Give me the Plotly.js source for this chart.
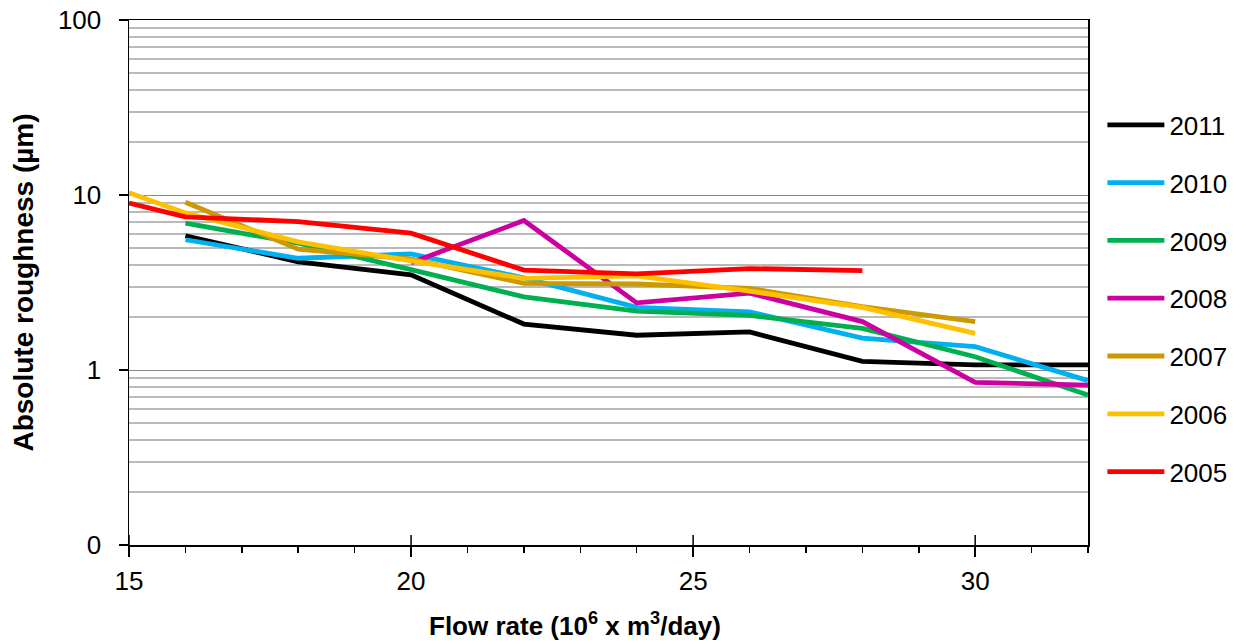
<!DOCTYPE html>
<html>
<head>
<meta charset="utf-8">
<script src="https://cdn.plot.ly/plotly-3.0.1.min.js"></script>
<style>
  html, body { margin: 0; padding: 0; background: #fff; }
  #chart { width: 1239px; height: 644px; }
</style>
</head>
<body>
<div id="chart"></div>
<script>
// ---- data ----
const years = ["2011", "2010", "2009", "2008", "2007", "2006", "2005"];
const colors = ["#000000", "#00B0F0", "#00B050", "#CC00A0", "#CC9900", "#FFC000", "#FF0000"];

const x2011 = [16, 18, 20, 22, 24, 26, 28, 30, 32];
const y2011 = [5.85, 4.15, 3.5, 1.83, 1.58, 1.65, 1.12, 1.07, 1.07];

const x2010 = [16, 18, 20, 22, 24, 26, 28, 30, 32];
const y2010 = [5.55, 4.35, 4.6, 3.36, 2.28, 2.15, 1.52, 1.36, 0.87];

const x2009 = [16, 18, 20, 22, 24, 26, 28, 30, 32];
const y2009 = [6.9, 5.3, 3.75, 2.62, 2.17, 2.05, 1.73, 1.19, 0.72];

const x2008 = [20, 22, 24, 26, 28, 30, 32];
const y2008 = [4.1, 7.15, 2.42, 2.75, 1.89, 0.85, 0.82];

const x2007 = [16, 18, 20, 22, 24, 26, 28, 30];
const y2007 = [9.1, 4.9, 4.3, 3.13, 3.1, 2.93, 2.3, 1.89];

const x2006 = [15, 16, 18, 20, 22, 24, 26, 28, 30];
const y2006 = [10.3, 7.9, 5.4, 4.2, 3.34, 3.45, 2.82, 2.28, 1.62];

const x2005 = [15, 16, 18, 20, 22, 24, 26, 28];
const y2005 = [9.0, 7.5, 7.05, 6.05, 3.72, 3.54, 3.8, 3.7];

const yTickVals = [0.1, 1, 10, 100];
const yTickText = ["0", "1", "10", "100"];
const xTickVals = [15, 20, 25, 30];

const xTitle = "Flow rate (10<sup>6</sup> x m<sup>3</sup>/day)";
const yTitle = "Absolute roughness (µm)";

// ---- build traces ----
const xs = [x2011, x2010, x2009, x2008, x2007, x2006, x2005];
const ys = [y2011, y2010, y2009, y2008, y2007, y2006, y2005];

const traces = years.map((yr, i) => ({
  type: "scatter",
  mode: "lines",
  name: yr,
  legendgroup: yr,
  x: xs[i],
  y: ys[i],
  line: { color: colors[i], width: 4.8 },
  hoverinfo: "x+y+name"
}));

// minor gridlines at 2..9 of each decade
const minorVals = [];
for (let e = -1; e <= 1; e++) {
  for (let d = 2; d <= 9; d++) minorVals.push(d * Math.pow(10, e));
}

// inward half of the crossing major x ticks
const innerTicks = xTickVals.map(v => ({
  type: "line", xref: "x", yref: "paper",
  x0: v, x1: v, y0: 0, y1: 0.019,
  line: { color: "#000", width: 1.5 }
}));

const font = "Liberation Sans, Arial, sans-serif";

const layout = {
  width: 1239,
  height: 644,
  paper_bgcolor: "#ffffff",
  plot_bgcolor: "#ffffff",
  margin: { l: 129, r: 151, t: 20, b: 99, autoexpand: false },
  font: { family: font, size: 26, color: "#000" },
  showlegend: true,
  legend: {
    x: 1.015, xanchor: "left",
    y: 0.845, yanchor: "top",
    font: { family: font, size: 26, color: "#000" },
    tracegroupgap: 21,
    itemwidth: 57,
    bgcolor: "rgba(0,0,0,0)"
  },
  shapes: innerTicks,
  annotations: [{
    text: xTitle,
    xref: "paper", yref: "paper",
    x: 0.465, y: -0.152,
    xanchor: "center", yanchor: "middle",
    showarrow: false,
    font: { family: font, size: 26, color: "#000", weight: "bold" }
  }],
  xaxis: {
    type: "linear",
    range: [15, 32],
    tickmode: "array",
    tickvals: xTickVals,
    ticks: "outside",
    ticklen: 10,
    tickwidth: 1.5,
    tickcolor: "#000",
    ticklabelstandoff: 2,
    showgrid: false,
    zeroline: false,
    showline: true,
    linecolor: "#000",
    linewidth: 1.5,
    mirror: true,
    tickfont: { family: font, size: 26, color: "#000" },
    minor: { dtick: 1, tick0: 15, ticks: "outside", ticklen: 6, tickwidth: 1.5, tickcolor: "#000", showgrid: false }
  },
  yaxis: {
    type: "log",
    range: [-1, 2],
    tickmode: "array",
    tickvals: yTickVals,
    ticktext: yTickText,
    ticks: "outside",
    ticklen: 9,
    tickwidth: 1.5,
    tickcolor: "#000",
    ticklabelstandoff: 12,
    showgrid: true,
    gridcolor: "#8a8a8a",
    gridwidth: 1,
    zeroline: false,
    showline: true,
    linecolor: "#000",
    linewidth: 1.5,
    mirror: true,
    tickfont: { family: font, size: 26, color: "#000" },
    minor: { tickmode: "array", tickvals: minorVals, ticks: "", showgrid: true, gridcolor: "#bababa", gridwidth: 2 },
    title: { text: yTitle, font: { family: font, size: 28, color: "#000", weight: "bold" }, standoff: 16 }
  }
};

Plotly.newPlot("chart", traces, layout, { displayModeBar: false, staticPlot: true });
</script>
</body>
</html>
